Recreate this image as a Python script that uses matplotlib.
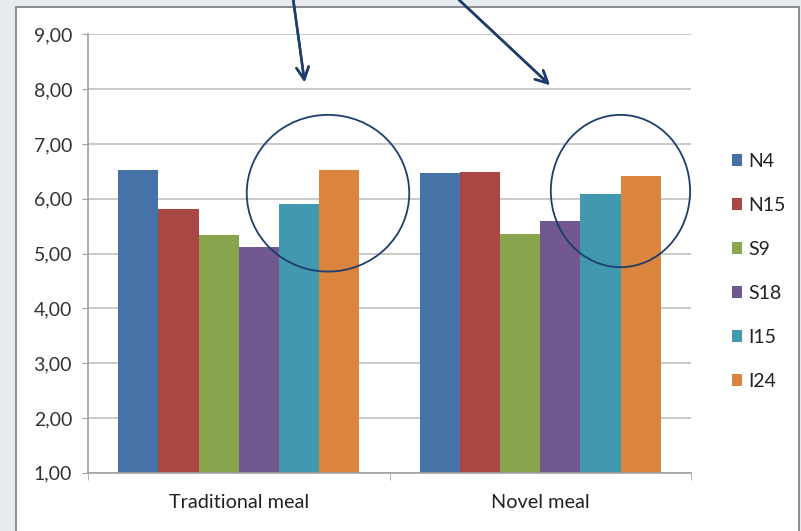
import numpy as np
import matplotlib.pyplot as plt
from matplotlib.patches import Ellipse, Rectangle

# meal types and series
meals = ['Traditional meal', 'Novel meal']
series = ['N4', 'N15', 'S9', 'S18', 'I15', 'I24']
values = {
    'N4':  [6.52, 6.47],
    'N15': [5.81, 6.49],
    'S9':  [5.34, 5.35],
    'S18': [5.11, 5.59],
    'I15': [5.90, 6.08],
    'I24': [6.52, 6.41],
}
yticks = [1, 2, 3, 4, 5, 6, 7, 8, 9]
ytick_labels = ['1,00', '2,00', '3,00', '4,00', '5,00', '6,00', '7,00', '8,00', '9,00']

colors = ['#4572A7', '#AA4643', '#89A54E', '#71588F', '#4198AF', '#DB843D']

plt.rcParams['font.family'] = ['Lato', 'DejaVu Sans']

W, H = 801, 531
fig = plt.figure(figsize=(W / 100, H / 100), dpi=100)
fig.patch.set_facecolor('#e6ebef')

# white chart area with a thin grey border
fig.add_artist(Rectangle((16 / W, -0.01), (799 - 16) / W, (H - 7) / H + 0.01,
                         transform=fig.transFigure, facecolor='white',
                         edgecolor='#8c8c8c', lw=1.4, zorder=0))

ax = fig.add_axes([88 / W, (H - 472.7) / H, (691 - 88) / W, (472.7 - 34.3) / H])
ax.set_facecolor('none')

x = np.arange(len(meals))
bw = 1 / 7.5
for i, (s, c) in enumerate(zip(series, colors)):
    ax.bar(x + (i - 2.5) * bw, values[s], bw, bottom=0, color=c, label=s, zorder=2)

ax.set_xlim(-0.5, 1.5)
ax.set_ylim(1, 9)
ax.set_yticks(yticks)
ax.set_yticklabels(ytick_labels, fontsize=14, color='#333333')
ax.yaxis.grid(True, color='#c0c0c0', lw=1.2)
ax.set_axisbelow(True)

ax.set_xticks(x)
ax.set_xticklabels(meals, fontsize=14.3, color='#222222')
ax.set_xticks([-0.5, 0.5, 1.5], minor=True)
ax.tick_params(axis='x', which='major', length=0, pad=15)
ax.tick_params(axis='x', which='minor', length=5, color='#a0a0a0', direction='out')
ax.tick_params(axis='y', length=4.5, color='#a0a0a0', pad=7)

for side in ['top', 'right']:
    ax.spines[side].set_visible(False)
for side in ['left', 'bottom']:
    ax.spines[side].set_color('#a0a0a0')
    ax.spines[side].set_linewidth(1.2)

# highlight the I15 / I24 pair in each meal
navy = '#1d3d6b'
ax.add_patch(Ellipse((0.296, 6.10), 0.539, 2.86, fill=False, ec=navy, lw=1.3,
                     clip_on=False, zorder=5))
ax.add_patch(Ellipse((1.266, 6.14), 0.462, 2.78, fill=False, ec=navy, lw=1.3,
                     clip_on=False, zorder=5))

# arrows coming down from above the chart
for (x0, x1, y1) in [(293, 305, 446), (457, 552, 444)]:
    fig.add_artist(plt.annotate('', xy=(x1, y1), xytext=(x0, H + 2),
                                xycoords='figure pixels', textcoords='figure pixels',
                                arrowprops=dict(arrowstyle='->', color=navy, lw=1.8,
                                                mutation_scale=22)))

leg = fig.legend(loc='upper left', bbox_to_anchor=(724 / W, 1 - 145 / H),
                 frameon=False, fontsize=14, handlelength=0.55, handleheight=0.55,
                 handletextpad=0.3, labelspacing=1.39, borderaxespad=0)
for t in leg.get_texts():
    t.set_color('#222222')

fig.savefig('out.png', dpi=100, facecolor=fig.get_facecolor())
